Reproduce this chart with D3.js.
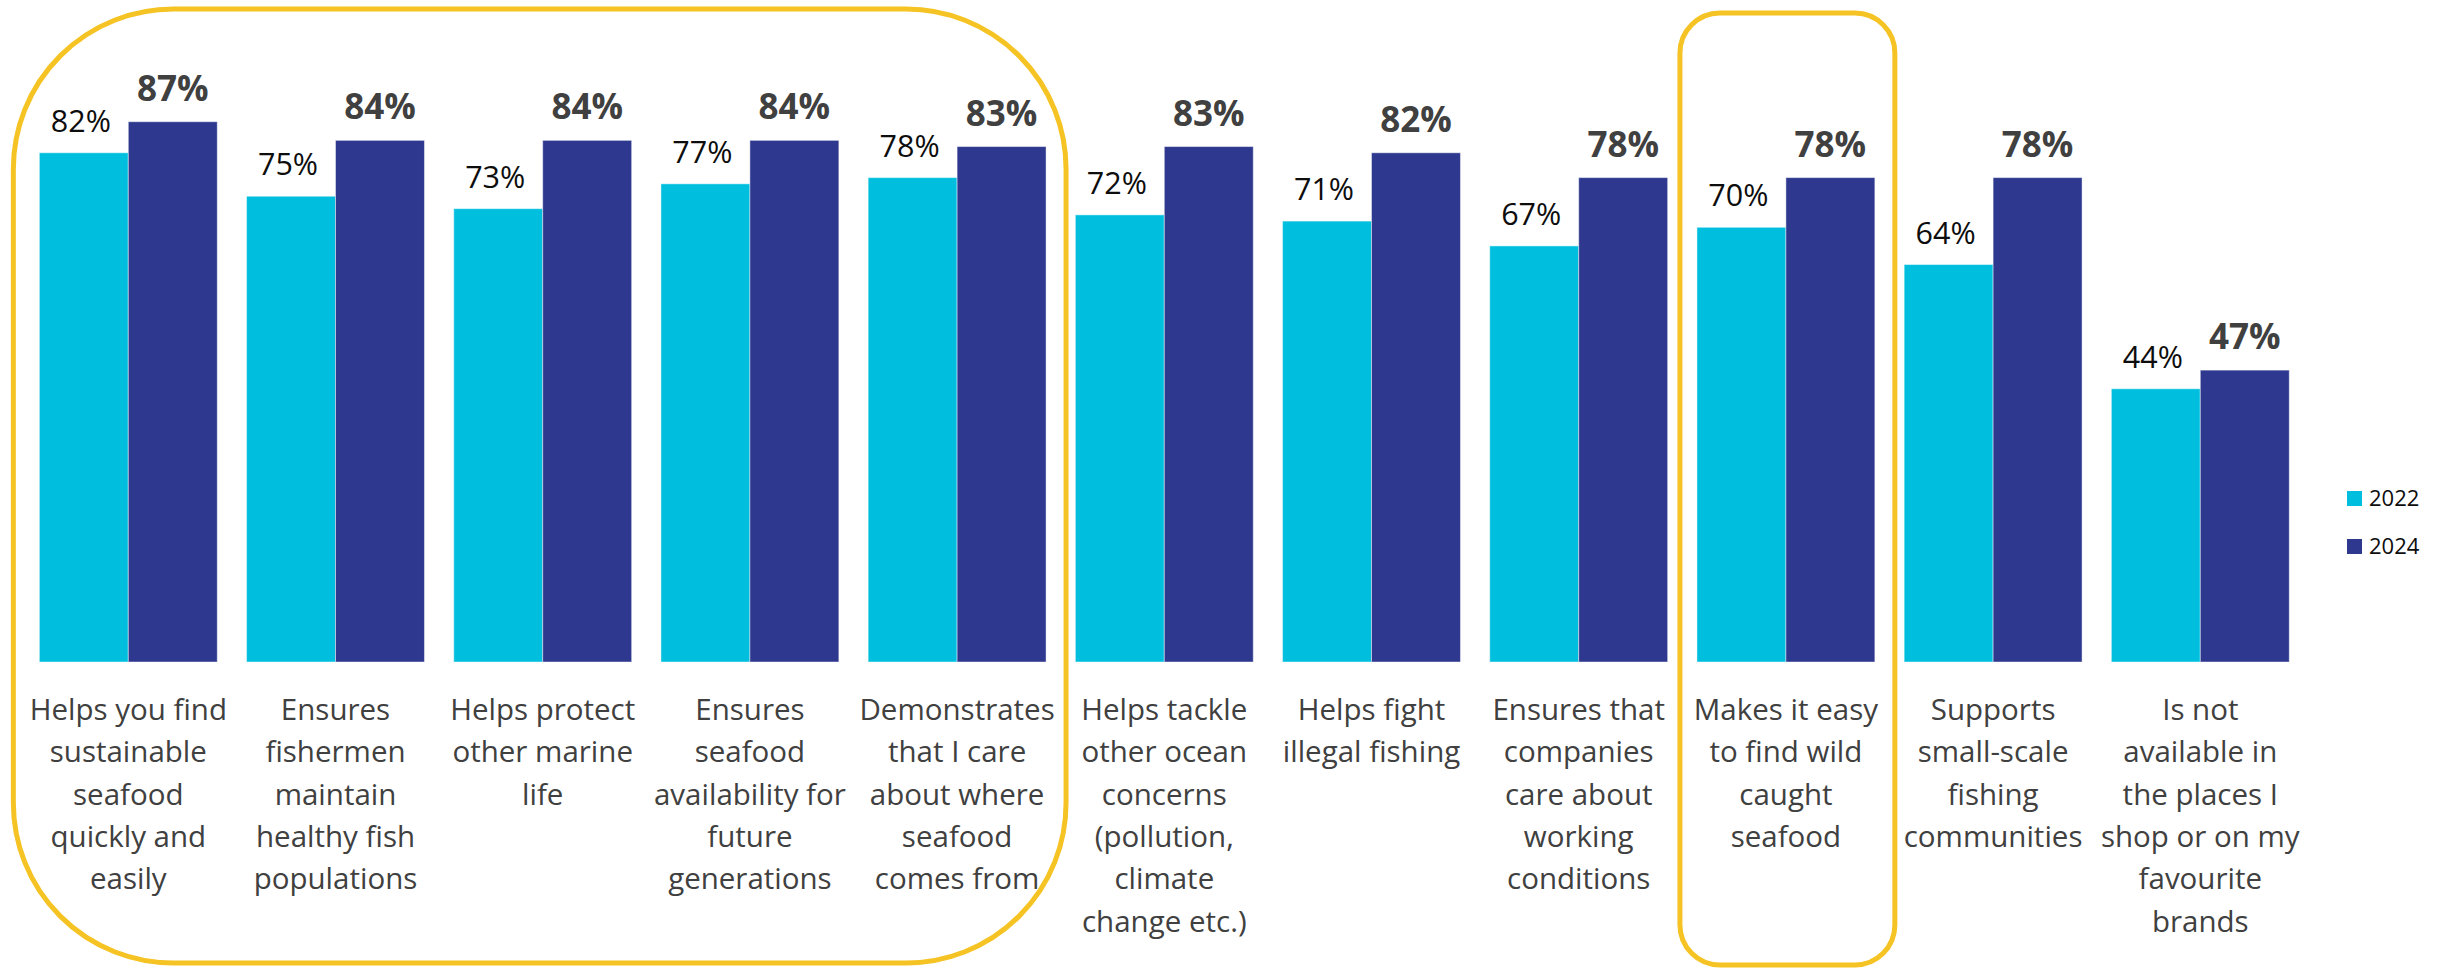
<!DOCTYPE html>
<html>
<head>
<meta charset="utf-8">
<script src="https://cdn.jsdelivr.net/npm/d3@7"></script>
<style>
  html, body { margin: 0; padding: 0; background: #ffffff; }
  svg { display: block; }
</style>
</head>
<body>
<svg id="chart" width="2444" height="968"></svg>
<script>
// Survey statements (x categories), each wrapped into display lines
const categories = [
  ["Helps you find", "sustainable", "seafood", "quickly and", "easily"],
  ["Ensures", "fishermen", "maintain", "healthy fish", "populations"],
  ["Helps protect", "other marine", "life"],
  ["Ensures", "seafood", "availability for", "future", "generations"],
  ["Demonstrates", "that I care", "about where", "seafood", "comes from"],
  ["Helps tackle", "other ocean", "concerns", "(pollution,", "climate", "change etc.)"],
  ["Helps fight", "illegal fishing"],
  ["Ensures that", "companies", "care about", "working", "conditions"],
  ["Makes it easy", "to find wild", "caught", "seafood"],
  ["Supports", "small-scale", "fishing", "communities"],
  ["Is not", "available in", "the places I", "shop or on my", "favourite", "brands"]
];

const seriesNames = ["2022", "2024"];
const values2022 = [82, 75, 73, 77, 78, 72, 71, 67, 70, 64, 44];
const values2024 = [87, 84, 84, 84, 83, 83, 82, 78, 78, 78, 47];

// Highlighted groups of statements (first index, last index)
const highlightBig = [0, 4];
const highlightSmall = [8, 8];

const colors = { "2022": "#00BFDE", "2024": "#2E388E" };
const font = "'Open Sans', 'Noto Sans', sans-serif";

const svg = d3.select("#chart");

const ids = categories.map((c, i) => i);
const x = d3.scaleBand()
  .domain(ids)
  .range([24.7, 2303.9])
  .paddingInner(0.1414)
  .paddingOuter(0.0707);

const xSub = d3.scaleBand()
  .domain(seriesNames)
  .range([0, x.bandwidth()]);

const y = d3.scaleLinear().domain([0, 100]).range([662, 41]);

const rows = ids.map(i => ({ i, "2022": values2022[i], "2024": values2024[i] }));

// Bars
const groups = svg.append("g").selectAll("g.group")
  .data(rows)
  .join("g")
  .attr("class", "group")
  .attr("transform", d => `translate(${x(d.i)},0)`);

groups.selectAll("rect")
  .data(d => seriesNames.map(s => ({ s, v: d[s] })))
  .join("rect")
  .attr("x", d => xSub(d.s))
  .attr("y", d => y(d.v))
  .attr("width", xSub.bandwidth())
  .attr("height", d => y(0) - y(d.v))
  .attr("fill", d => colors[d.s])
  .attr("stroke", "rgba(255,255,255,0.45)")
  .attr("stroke-width", 1);

// Value labels above bars
groups.selectAll("text.val")
  .data(d => seriesNames.map(s => ({ s, v: d[s] })))
  .join("text")
  .attr("class", "val")
  .attr("x", d => xSub(d.s) + xSub.bandwidth() / 2 + (d.s === "2024" ? 0 : -3))
  .attr("y", d => y(d.v) - 21)
  .attr("text-anchor", "middle")
  .attr("font-family", font)
  .attr("font-size", d => d.s === "2024" ? 35 : 30.5)
  .attr("font-weight", d => d.s === "2024" ? 700 : 400)
  .attr("fill", d => d.s === "2024" ? "#404040" : "#0d0d0d")
  .text(d => d.v + "%");

// Category axis labels (no axis line or ticks)
const xAxis = d3.axisBottom(x).tickSize(0).tickFormat(() => "");
const axisG = svg.append("g")
  .attr("transform", `translate(0,${y(0)})`)
  .call(xAxis);
axisG.select(".domain").remove();

axisG.selectAll(".tick text").remove();
axisG.selectAll(".tick")
  .append("text")
  .attr("text-anchor", "middle")
  .attr("font-family", font)
  .attr("font-size", 29.5)
  .attr("fill", "#404040")
  .each(function (i) {
    const t = d3.select(this);
    categories[i].forEach((line, k) => {
      t.append("tspan")
        .attr("x", 0)
        .attr("y", 58 + k * 42.3)
        .text(line);
    });
  });

// Highlight frames around selected statements
const frame = svg.append("g").attr("fill", "none").attr("stroke", "#F5C323").attr("stroke-width", 5);
frame.append("rect")
  .attr("x", x(highlightBig[0]) - 26)
  .attr("y", 9)
  .attr("width", x(highlightBig[1]) + x.bandwidth() + 20 - (x(highlightBig[0]) - 26))
  .attr("height", 954)
  .attr("rx", 160).attr("ry", 160);
frame.append("rect")
  .attr("x", x(highlightSmall[0]) - 17)
  .attr("y", 13)
  .attr("width", x(highlightSmall[1]) + x.bandwidth() + 20 - (x(highlightSmall[0]) - 17))
  .attr("height", 952)
  .attr("rx", 40).attr("ry", 40);

// Legend
const legend = svg.append("g").attr("transform", "translate(2347,491)");
seriesNames.forEach((s, k) => {
  const g = legend.append("g").attr("transform", `translate(0,${k * 48})`);
  g.append("rect").attr("width", 15).attr("height", 15).attr("fill", colors[s]);
  g.append("text")
    .attr("x", 22).attr("y", 15)
    .attr("font-family", font).attr("font-size", 22).attr("fill", "#0d0d0d")
    .text(s);
});
</script>
</body>
</html>
